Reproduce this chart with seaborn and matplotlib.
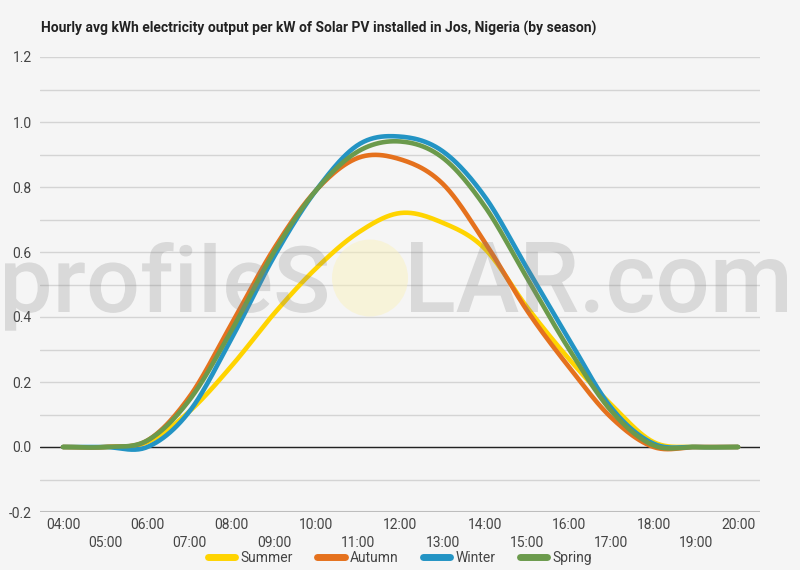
import numpy as np
import pandas as pd
import matplotlib
matplotlib.use("Agg")
import matplotlib.pyplot as plt
from matplotlib.patches import Ellipse, PathPatch
from matplotlib.lines import Line2D
from matplotlib.textpath import TextPath
from matplotlib.font_manager import FontProperties
from matplotlib.transforms import Affine2D
import seaborn as sns

# hourly averages (kWh per kW installed)
hours = list(range(4, 21))
hour_labels = [f"{h:02d}:00" for h in hours]
seasons = ["Summer", "Autumn", "Winter", "Spring"]
summer = [0, 0, 0.015, 0.11, 0.25, 0.41, 0.55, 0.66, 0.72, 0.69, 0.61, 0.43, 0.27, 0.13, 0.015, 0, 0]
autumn = [0, 0, 0.02, 0.155, 0.38, 0.61, 0.79, 0.89, 0.885, 0.81, 0.63, 0.42, 0.245, 0.09, 0.0, 0, 0]
winter = [0, 0, 0.0, 0.11, 0.335, 0.585, 0.79, 0.93, 0.955, 0.91, 0.77, 0.55, 0.33, 0.12, 0.01, 0, 0]
spring = [0, 0, 0.02, 0.145, 0.36, 0.60, 0.79, 0.91, 0.94, 0.89, 0.74, 0.52, 0.30, 0.11, 0.005, 0, 0]
colors = ["#FFD400", "#E5711D", "#2394C4", "#6B9A4C"]


def curve(x, y, n=24):
    """Catmull-Rom curve through the points, like the 'function' curve of the source chart."""
    x = np.asarray(x, float)
    y = np.asarray(y, float)
    m = np.gradient(y, x)
    xs, ys = [], []
    for i in range(len(x) - 1):
        t = np.linspace(0, 1, n, endpoint=False)
        h = x[i + 1] - x[i]
        h00 = 2 * t**3 - 3 * t**2 + 1
        h10 = t**3 - 2 * t**2 + t
        h01 = -2 * t**3 + 3 * t**2
        h11 = t**3 - t**2
        xs.append(x[i] + t * h)
        ys.append(h00 * y[i] + h10 * h * m[i] + h01 * y[i + 1] + h11 * h * m[i + 1])
    xs.append([x[-1]])
    ys.append([y[-1]])
    return np.concatenate(xs), np.concatenate(ys)


frames = []
for name, vals in zip(seasons, [summer, autumn, winter, spring]):
    cx, cy = curve(hours, vals)
    frames.append(pd.DataFrame({"hour": cx, "kwh": cy, "season": name}))
df = pd.concat(frames, ignore_index=True)

sns.set_theme(style="white")
plt.rcParams["font.family"] = ["Roboto", "DejaVu Sans"]
bg = "#f5f5f5"

fig = plt.figure(figsize=(8, 5.7), dpi=100, facecolor=bg)
ax = fig.add_axes([0.05, 1 - 512 / 570, 0.90, (512 - 57) / 570])
ax.set_facecolor(bg)

sns.lineplot(data=df, x="hour", y="kwh", hue="season", hue_order=seasons,
             palette=colors, linewidth=3.3, estimator=None, sort=False,
             legend=False, ax=ax, zorder=3)

ax.set_xlim(4 - 23 / 42.19, 20 + 22 / 42.19)
ax.set_ylim(-0.2, 1.2)
ax.set_axisbelow(True)
ax.set_yticks(np.arange(-0.2, 1.21, 0.2))
ax.set_yticks(np.arange(-0.1, 1.2, 0.2), minor=True)
ax.set_yticklabels([f"{v:.1f}" for v in np.arange(-0.2, 1.21, 0.2)])
ax.grid(axis="y", which="both", color="#d4d4d4", linewidth=1)
ax.axhline(0, color="#222222", linewidth=1, zorder=2)
ax.axhline(-0.2, color="#bdbdbd", linewidth=1.5, zorder=2)
for s in ax.spines.values():
    s.set_visible(False)

ax.set_xticks(hours)
ax.set_xticklabels(hour_labels)
ax.tick_params(axis="x", length=0, labelsize=10, labelcolor="#444444", pad=4)
ax.tick_params(axis="y", which="both", length=0, labelsize=10, labelcolor="#444444", pad=6)
for i, tick in enumerate(ax.xaxis.get_major_ticks()):
    if i % 2 == 1:
        tick.set_pad(17)
ax.set_xlabel("")
ax.set_ylabel("")

fig.text(41 / 800, 1 - 28 / 570,
         "Hourly avg kWh electricity output per kW of Solar PV installed in Jos, Nigeria (by season)",
         fontsize=10, fontweight="bold", color="#222222", va="center", ha="left")

handles = [Line2D([], [], color=c, linewidth=5) for c in colors]
fig.legend(handles, seasons, loc="center", bbox_to_anchor=(0.5, 1 - 558 / 570),
           ncol=4, frameon=False, fontsize=10, handlelength=2.0,
           handletextpad=0.4, columnspacing=1.7, labelcolor="#444444")

# watermark on top, semi-transparent; glyph outlines fitted to the reference box
wm_font = FontProperties(family="Roboto", weight="medium")
baseline = 570 - 312


def watermark(text, x0, x1):
    path = TextPath((0, 0), text, size=1, prop=wm_font)
    ext = path.get_extents()
    sx = (x1 - x0) / ext.width
    sy = 70 / ext.y1
    tr = Affine2D().translate(-ext.x0, 0).scale(sx, sy).translate(x0, baseline)
    fig.patches.append(PathPatch(path, transform=tr, facecolor="#808080",
                                 edgecolor="none", alpha=0.24, zorder=10))


watermark("profileS", 5, 327)
watermark("LAR.com", 411, 787)
sun = Ellipse((370 / 800, 1 - 278 / 570), 76 / 800, 77 / 570, transform=fig.transFigure,
              facecolor="#fbf1b8", edgecolor="none", alpha=0.45, zorder=10)
fig.patches.append(sun)

fig.savefig("out.png", dpi=100, facecolor=bg)
